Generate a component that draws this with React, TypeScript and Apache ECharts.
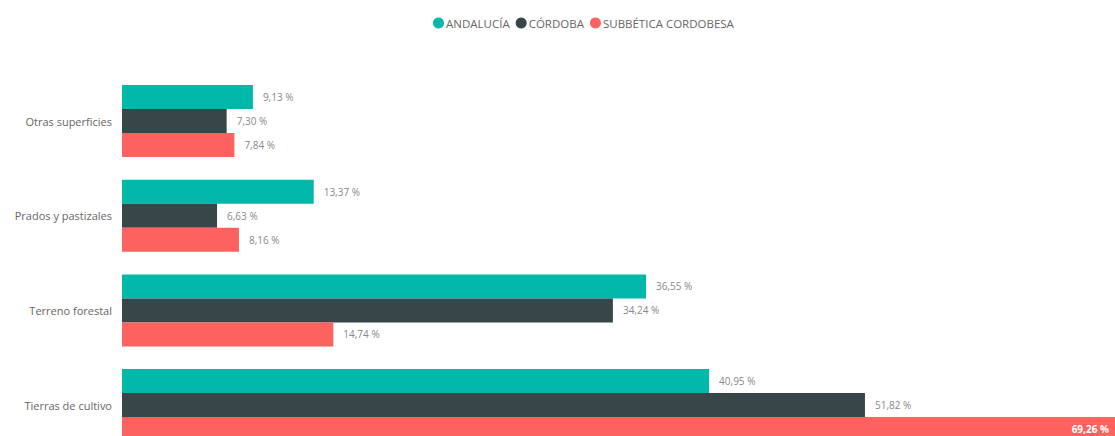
import React, { useEffect, useRef } from "react";
import * as echarts from "echarts";

const categories = ["Otras superficies", "Prados y pastizales", "Terreno forestal", "Tierras de cultivo"];
const andalucia = [9.13, 13.37, 36.55, 40.95];
const cordoba = [7.3, 6.63, 34.24, 51.82];
const subbetica = [7.84, 8.16, 14.74, 69.26];
const seriesNames = ["ANDALUCÍA", "CÓRDOBA", "SUBBÉTICA CORDOBESA"];
const colors = ["#01B8AA", "#374649", "#FD625E"];

const FONT = "'Open Sans', 'Noto Sans', sans-serif";

const fmt = (v: number) => v.toFixed(2).replace(".", ",") + " %";

export default function App() {
  const ref = useRef<HTMLDivElement>(null);
  useEffect(() => {
    document.body.style.margin = "0";
    const chart = echarts.init(ref.current!, null, { renderer: "svg" });
    const data = [andalucia, cordoba, subbetica];
    const maxVal = Math.max(...subbetica);
    chart.setOption({
      animation: false,
      color: colors,
      legend: {
        top: 12,
        left: 428,
        icon: "circle",
        itemWidth: 11,
        itemHeight: 11,
        itemGap: 6,
        textStyle: { color: "#666", fontSize: 11.5, fontFamily: FONT, padding: [0, 0, 0, -3] },
        data: seriesNames,
      },
      grid: { left: 122, right: 0, top: 73.7, height: 378.7, containLabel: false },
      xAxis: {
        type: "value",
        min: 0,
        max: (v: any) => v.max,
        show: false,
      },
      yAxis: {
        type: "category",
        inverse: true,
        data: categories,
        axisLine: { show: false },
        axisTick: { show: false },
        axisLabel: { color: "#666", fontSize: 11, fontFamily: FONT, margin: 10 },
      },
      series: seriesNames.map((name, i) => ({
        name,
        type: "bar",
        barWidth: 24,
        barGap: "0%",
        data: data[i].map((v) => {
          const inside = v === maxVal;
          return {
            value: v,
            label: inside
              ? { position: "insideRight", color: "#fff", fontWeight: "bold", distance: 6 }
              : undefined,
          };
        }),
        label: {
          show: true,
          position: "right",
          distance: 10,
          color: "#888",
          fontSize: 10,
          fontFamily: FONT,
          formatter: (p: any) => fmt(p.value),
        },
      })),
    });
    return () => chart.dispose();
  }, []);
  return (
    <div style={{ width: 1115, height: 436, overflow: "hidden" }}>
      <div ref={ref} style={{ width: 1115, height: 470 }} />
    </div>
  );
}
